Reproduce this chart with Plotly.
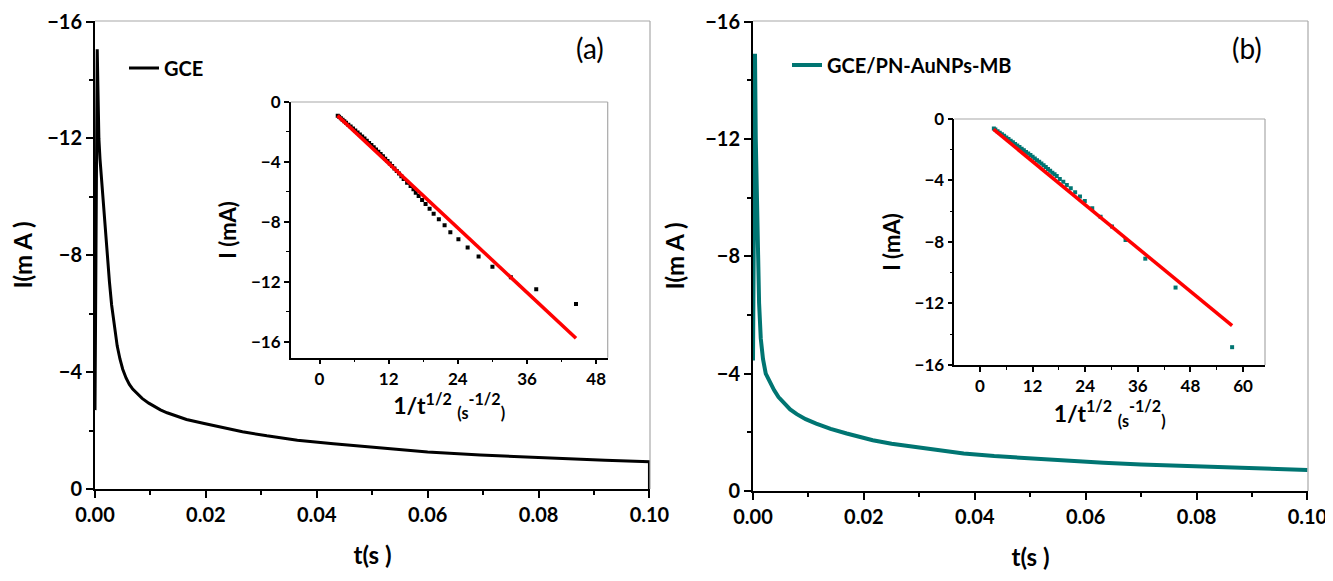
import plotly.graph_objects as go

# ---------------- data ----------------
# Panel (a): GCE chronoamperogram
t_a = [0, 0.0003, 0.0004, 0.0005, 0.0006, 0.0007, 0.0009, 0.0012, 0.0015, 0.0018,
       0.0022, 0.0026, 0.003, 0.0035, 0.004, 0.0045, 0.005, 0.0056, 0.0062,
       0.0068, 0.0075, 0.0085, 0.0097, 0.0108, 0.0118, 0.013, 0.0145, 0.0165,
       0.0197, 0.023, 0.0266, 0.031, 0.0365, 0.043, 0.05, 0.055, 0.06, 0.0695,
       0.0825, 0.092, 0.1, 0.1]
I_a = [-2.7, -14.6, -15.05, -14.0, -12.9, -12.0, -11.3, -10.5, -9.86, -8.9,
       -8.0, -7.1, -6.3, -5.5, -4.9, -4.45, -4.1, -3.8, -3.58,
       -3.42, -3.28, -3.1, -2.94, -2.81, -2.71, -2.61, -2.5, -2.38,
       -2.24, -2.1, -1.96, -1.82, -1.67, -1.55, -1.44, -1.35, -1.27, -1.16,
       -1.05, -0.98, -0.93, 0]

# Panel (b): GCE/PN-AuNPs-MB chronoamperogram
t_b = [0, 0.0002, 0.00036, 0.0005, 0.0007, 0.0009, 0.0011, 0.0014, 0.0018, 0.0023,
       0.003, 0.0038, 0.0046, 0.0056, 0.0067, 0.0079, 0.0095, 0.0114, 0.014,
       0.0169, 0.019, 0.0216, 0.025, 0.0287, 0.033, 0.038, 0.0435, 0.0498,
       0.056, 0.0632, 0.07, 0.0772, 0.085, 0.09, 0.1]
I_b = [-4.45, -12.5, -14.9, -12.0, -9.5, -7.6, -6.4, -5.2, -4.5, -4.0,
       -3.7, -3.44, -3.2, -2.98, -2.78, -2.62, -2.45, -2.3, -2.12,
       -1.96, -1.85, -1.73, -1.61, -1.51, -1.39, -1.28, -1.19, -1.11,
       -1.03, -0.96, -0.9, -0.85, -0.8, -0.77, -0.72]

# Inset (a): I vs 1/t^1/2
inv_a = [3.16, 3.4, 3.7, 4.0, 4.3, 4.6, 5.0, 5.4, 5.8, 6.2, 6.6, 7.0, 7.4, 7.8,
         8.2, 8.6, 9.0, 9.4, 9.8, 10.2, 10.6, 11.0, 11.4, 11.8, 12.2, 12.6,
         13.0, 13.4, 13.8, 14.2, 14.6, 15.2, 15.8, 16.3, 16.7, 17.2, 17.8,
         18.4, 19.1, 19.8, 20.7, 21.7, 22.7, 24.1, 25.7, 27.6, 30.0, 33.2,
         37.6, 44.5]
Iin_a = [-0.92, -0.99, -1.09, -1.19, -1.29, -1.38, -1.51, -1.64, -1.77, -1.90,
         -2.03, -2.16, -2.30, -2.44, -2.58, -2.73, -2.87, -3.02, -3.17, -3.32,
         -3.47, -3.62, -3.78, -3.94, -4.10, -4.26, -4.43, -4.60, -4.77, -4.95,
         -5.13, -5.38, -5.60, -5.82, -6.05, -6.27, -6.53, -6.80, -7.11, -7.45,
         -7.82, -8.22, -8.69, -9.16, -9.71, -10.31, -10.98, -11.69, -12.49,
         -13.47]
fit_a_x = [3.11, 44.5]
fit_a_y = [-0.91, -15.75]

# Inset (b): I vs 1/t^1/2
inv_b = [3.16, 3.5, 4.0, 4.5, 5.0, 5.5, 6.0, 6.5, 7.0, 7.5, 8.0, 8.5, 9.0, 9.5,
         10.0, 10.5, 11.0, 11.5, 12.0, 12.5, 13.0, 13.5, 14.0, 14.5, 15.0,
         15.5, 16.0, 16.5, 17.0, 17.5, 18.2, 19.0, 19.8, 20.7, 21.7, 22.8,
         23.9, 25.6, 27.5, 30.1, 33.2, 37.7, 44.6, 57.5]
Iin_b = [-0.62, -0.69, -0.79, -0.89, -0.99, -1.09, -1.20, -1.30, -1.41, -1.51,
         -1.62, -1.72, -1.83, -1.93, -2.04, -2.14, -2.25, -2.35, -2.46, -2.57,
         -2.68, -2.79, -2.90, -3.01, -3.13, -3.25, -3.37, -3.49, -3.60, -3.71,
         -3.90, -4.08, -4.29, -4.51, -4.77, -5.05, -5.34, -5.81, -6.36, -7.00,
         -7.87, -9.09, -10.97, -14.85]
fit_b_x = [3.1, 57.5]
fit_b_y = [-0.68, -13.45]

x_main_ticks = [0.0, 0.02, 0.04, 0.06, 0.08, 0.10]
y_main_ticks = [-16, -12, -8, -4, 0]
x_inset_a_ticks = [0, 12, 24, 36, 48]
x_inset_b_ticks = [0, 12, 24, 36, 48, 60]
y_inset_ticks = [-16, -12, -8, -4, 0]

BLACK = "#000000"
TEAL = "#007572"
RED = "#FF0000"
FONT = "Lato, Open Sans, sans-serif"

fig = go.Figure()

fig.add_trace(go.Scatter(x=t_a, y=I_a, mode="lines", name="GCE",
                         line=dict(color=BLACK, width=3),
                         xaxis="x", yaxis="y", legend="legend"))
fig.add_trace(go.Scatter(x=t_b, y=I_b, mode="lines", name="GCE/PN-AuNPs-MB",
                         line=dict(color=TEAL, width=4),
                         xaxis="x2", yaxis="y2", legend="legend2"))

fig.add_trace(go.Scatter(x=inv_a, y=Iin_a, mode="markers", showlegend=False,
                         marker=dict(symbol="square", size=4, color=BLACK),
                         xaxis="x3", yaxis="y3"))
fig.add_trace(go.Scatter(x=fit_a_x, y=fit_a_y, mode="lines", showlegend=False,
                         line=dict(color=RED, width=3.5),
                         xaxis="x3", yaxis="y3"))
fig.add_trace(go.Scatter(x=inv_b, y=Iin_b, mode="markers", showlegend=False,
                         marker=dict(symbol="square", size=4, color=TEAL),
                         xaxis="x4", yaxis="y4"))
fig.add_trace(go.Scatter(x=fit_b_x, y=fit_b_y, mode="lines", showlegend=False,
                         line=dict(color=RED, width=3.5),
                         xaxis="x4", yaxis="y4"))

# page body has an 8px default margin: figure is shrunk and shifted to fit
OFF = 8
W, H = 1333 - OFF, 581 - OFF


def px_x(p):
    return (p - OFF) / W


def px_y(p):
    return (H - (p - OFF)) / H


def main_x(anchor, domain):
    return dict(domain=domain, anchor=anchor, range=[0, 0.1001], automargin=False,
                tickvals=x_main_ticks, tickformat=".2f",
                showgrid=False, zeroline=False, showline=True,
                linecolor=BLACK, linewidth=2, ticks="outside", ticklen=7,
                tickwidth=2, tickcolor=BLACK, ticklabeloverflow="allow",
                minor=dict(ticks="outside", dtick=0.01, ticklen=4,
                           tickwidth=1.5, tickcolor=BLACK),
                tickfont=dict(family=FONT, size=20, color=BLACK, weight="bold"),
                title=dict(text="t(s )", standoff=22,
                           font=dict(family=FONT, size=24, color=BLACK,
                                     weight="bold")))


def main_y(anchor, domain):
    return dict(domain=domain, anchor=anchor, range=[0, -16.02], automargin=False,
                tickvals=y_main_ticks, showgrid=False, zeroline=False,
                showline=True, linecolor=BLACK, linewidth=2, ticks="outside",
                ticklen=7, tickwidth=2, tickcolor=BLACK, ticklabeloverflow="allow",
                minor=dict(ticks="outside", dtick=2, ticklen=4,
                           tickwidth=1.5, tickcolor=BLACK),
                tickfont=dict(family=FONT, size=20, color=BLACK, weight="bold"),
                title=dict(text="I(m A )", standoff=14,
                           font=dict(family=FONT, size=24, color=BLACK,
                                     weight="bold")))


def inset_x(anchor, domain, rng, ticks):
    return dict(domain=domain, anchor=anchor, range=rng, tickvals=ticks,
                automargin=False,
                showgrid=False, zeroline=False, showline=True,
                linecolor=BLACK, linewidth=1.5, ticks="outside", ticklen=5,
                tickwidth=1.5, tickcolor=BLACK,
                minor=dict(ticks="outside", dtick=6, ticklen=3, tickwidth=1,
                           tickcolor=BLACK),
                tickfont=dict(family=FONT, size=17, color=BLACK, weight="bold"),
                title=dict(text="1/t<sup>1/2</sup> <sub>(s</sub><sup>-1/2</sup><sub>)</sub>",
                           standoff=10,
                           font=dict(family=FONT, size=23, color=BLACK,
                                     weight="bold")))


def inset_y(anchor, domain, rng):
    return dict(domain=domain, anchor=anchor, range=rng, tickvals=y_inset_ticks,
                automargin=False,
                showgrid=False, zeroline=False, showline=True,
                linecolor=BLACK, linewidth=1.5, ticks="outside", ticklen=5,
                tickwidth=1.5, tickcolor=BLACK,
                minor=dict(ticks="outside", dtick=2, ticklen=3, tickwidth=1,
                           tickcolor=BLACK),
                tickfont=dict(family=FONT, size=17, color=BLACK, weight="bold"),
                title=dict(text="I (mA)", standoff=8,
                           font=dict(family=FONT, size=22, color=BLACK,
                                     weight="bold")))


dom_ax = [px_x(95), px_x(650)]
dom_ay = [px_y(489), px_y(21)]
dom_bx = [px_x(753), px_x(1308)]
dom_by = [px_y(491), px_y(21)]
dom_iax = [px_x(290.7), px_x(607.7)]
dom_iay = [px_y(357.7), px_y(102)]
dom_ibx = [px_x(954.3), px_x(1265)]
dom_iby = [px_y(365), px_y(119)]

shapes = []
for xr, yr in [("x", "y"), ("x2", "y2"), ("x3", "y3"), ("x4", "y4")]:
    shapes.append(dict(type="line", xref=f"{xr} domain", yref=f"{yr} domain",
                       x0=0, x1=1, y0=1, y1=1, line=dict(color="#A8A8A8", width=1.2)))
    shapes.append(dict(type="line", xref=f"{xr} domain", yref=f"{yr} domain",
                       x0=1, x1=1, y0=0, y1=1, line=dict(color="#A8A8A8", width=1.2)))

fig.update_layout(
    width=W, height=H, margin=dict(l=0, r=0, t=0, b=0, autoexpand=False),
    paper_bgcolor="white", plot_bgcolor="rgba(0,0,0,0)",
    font=dict(family=FONT, color=BLACK),
    xaxis=main_x("y", dom_ax), yaxis=main_y("x", dom_ay),
    xaxis2=main_x("y2", dom_bx), yaxis2=main_y("x2", dom_by),
    xaxis3=inset_x("y3", dom_iax, [-5, 50], x_inset_a_ticks),
    yaxis3=inset_y("x3", dom_iay, [-17.05, 0]),
    xaxis4=inset_x("y4", dom_ibx, [-5.86, 65], x_inset_b_ticks),
    yaxis4=inset_y("x4", dom_iby, [-16.01, 0]),
    shapes=shapes,
    legend=dict(x=px_x(124), y=px_y(68), xanchor="left", yanchor="middle",
                bgcolor="rgba(0,0,0,0)", borderwidth=0,
                font=dict(family=FONT, size=20, color=BLACK, weight="bold")),
    legend2=dict(x=px_x(787), y=px_y(65), xanchor="left", yanchor="middle",
                 bgcolor="rgba(0,0,0,0)", borderwidth=0,
                 font=dict(family=FONT, size=20, color=BLACK, weight="bold")),
    annotations=[
        dict(text="(a)", x=px_x(590), y=px_y(48), xref="paper", yref="paper",
             xanchor="center", yanchor="middle",
             showarrow=False, font=dict(family=FONT, size=28, color=BLACK)),
        dict(text="(b)", x=px_x(1247), y=px_y(48), xref="paper", yref="paper",
             xanchor="center", yanchor="middle",
             showarrow=False, font=dict(family=FONT, size=28, color=BLACK)),
    ],
)

fig.write_html("out.html")
